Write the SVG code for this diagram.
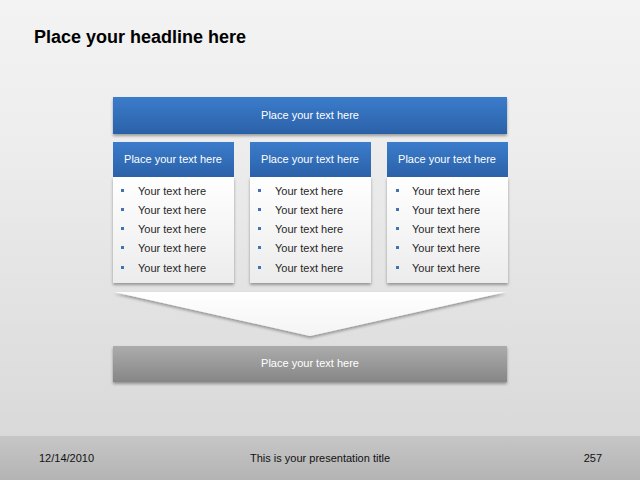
<svg xmlns="http://www.w3.org/2000/svg" width="640" height="480" viewBox="0 0 640 480">
<defs>
<linearGradient id="bg" x1="0" y1="0" x2="0" y2="1"><stop offset="0" stop-color="#f3f3f3"/><stop offset="0.3" stop-color="#ededed"/><stop offset="1" stop-color="#d6d6d6"/></linearGradient>
<linearGradient id="foot" x1="0" y1="0" x2="0" y2="1"><stop offset="0" stop-color="#c6c6c6"/><stop offset="1" stop-color="#b4b4b4"/></linearGradient>
<linearGradient id="blue" x1="0" y1="0" x2="0" y2="1"><stop offset="0" stop-color="#3b7ccb"/><stop offset="1" stop-color="#2b61a8"/></linearGradient>
<linearGradient id="body" x1="0" y1="0" x2="0" y2="1"><stop offset="0" stop-color="#ffffff"/><stop offset="1" stop-color="#ececec"/></linearGradient>
<linearGradient id="gray" x1="0" y1="0" x2="0" y2="1"><stop offset="0" stop-color="#acacac"/><stop offset="1" stop-color="#868686"/></linearGradient>
<linearGradient id="fun" x1="0" y1="0" x2="0" y2="1"><stop offset="0" stop-color="#ffffff"/><stop offset="1" stop-color="#f4f4f4"/></linearGradient>
<filter id="sh" x="-10%" y="-10%" width="120%" height="130%"><feDropShadow dx="0" dy="2" stdDeviation="1.5" flood-color="#000" flood-opacity="0.35"/></filter>
</defs>
<style>
.w{font-family:"Liberation Sans",Arial,sans-serif;font-size:11px;fill:#ffffff;text-anchor:middle}
.t{font-family:"Liberation Sans",Arial,sans-serif;font-size:11px;fill:#262626}
.b{fill:#3f72b6}
.f{font-family:"Liberation Sans",Arial,sans-serif;font-size:11px;fill:#111111}
</style>
<rect width="640" height="480" fill="url(#bg)"/>
<rect y="436" width="640" height="44" fill="url(#foot)"/>
<text x="34" y="43" font-family="Liberation Sans,Arial,sans-serif" font-size="18" font-weight="bold" fill="#000">Place your headline here</text>
<g id="top">
<rect x="113" y="97" width="394" height="37" fill="url(#blue)" filter="url(#sh)"/>
<text class="w" x="310" y="119">Place your text here</text>
</g>
<g id="col1">
<rect x="113" y="177" width="121" height="106" fill="url(#body)" filter="url(#sh)"/>
<rect x="113" y="142" width="121" height="35" fill="url(#blue)"/>
<text class="w" x="173" y="163">Place your text here</text>
<rect class="b" x="121" y="189" width="3" height="3"/><text class="t" x="138" y="195">Your text here</text>
<rect class="b" x="121" y="208" width="3" height="3"/><text class="t" x="138" y="214">Your text here</text>
<rect class="b" x="121" y="227" width="3" height="3"/><text class="t" x="138" y="233">Your text here</text>
<rect class="b" x="121" y="246" width="3" height="3"/><text class="t" x="138" y="252">Your text here</text>
<rect class="b" x="121" y="266" width="3" height="3"/><text class="t" x="138" y="272">Your text here</text>
</g>
<g id="col2">
<rect x="250" y="177" width="121" height="106" fill="url(#body)" filter="url(#sh)"/>
<rect x="250" y="142" width="121" height="35" fill="url(#blue)"/>
<text class="w" x="310" y="163">Place your text here</text>
<rect class="b" x="258" y="189" width="3" height="3"/><text class="t" x="275" y="195">Your text here</text>
<rect class="b" x="258" y="208" width="3" height="3"/><text class="t" x="275" y="214">Your text here</text>
<rect class="b" x="258" y="227" width="3" height="3"/><text class="t" x="275" y="233">Your text here</text>
<rect class="b" x="258" y="246" width="3" height="3"/><text class="t" x="275" y="252">Your text here</text>
<rect class="b" x="258" y="266" width="3" height="3"/><text class="t" x="275" y="272">Your text here</text>
</g>
<g id="col3">
<rect x="387" y="177" width="121" height="106" fill="url(#body)" filter="url(#sh)"/>
<rect x="387" y="142" width="121" height="35" fill="url(#blue)"/>
<text class="w" x="447" y="163">Place your text here</text>
<rect class="b" x="396" y="189" width="3" height="3"/><text class="t" x="412" y="195">Your text here</text>
<rect class="b" x="396" y="208" width="3" height="3"/><text class="t" x="412" y="214">Your text here</text>
<rect class="b" x="396" y="227" width="3" height="3"/><text class="t" x="412" y="233">Your text here</text>
<rect class="b" x="396" y="246" width="3" height="3"/><text class="t" x="412" y="252">Your text here</text>
<rect class="b" x="396" y="266" width="3" height="3"/><text class="t" x="412" y="272">Your text here</text>
</g>
<g id="connectors">
<polygon points="114,292 506,292 310,336" fill="url(#fun)" filter="url(#sh)"/>
</g>
<g id="bottom">
<rect x="113" y="346" width="394" height="36" fill="url(#gray)" filter="url(#sh)"/>
<text class="w" x="310" y="367">Place your text here</text>
</g>
<text class="f" x="39" y="462">12/14/2010</text>
<text class="f" x="320" y="462" text-anchor="middle">This is your presentation title</text>
<text class="f" x="602" y="462" text-anchor="end">257</text>
</svg>
